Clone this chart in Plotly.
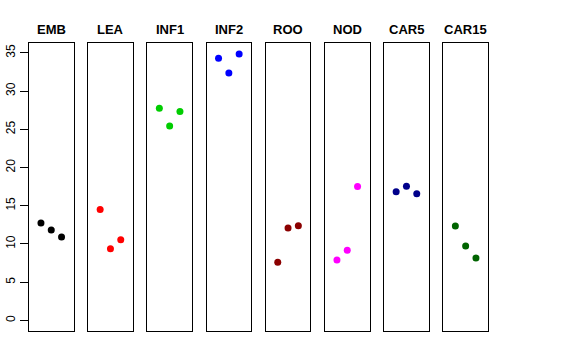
import plotly.graph_objects as go

groups = ["EMB", "LEA", "INF1", "INF2", "ROO", "NOD", "CAR5", "CAR15"]
colors = ["#000000", "#FF0000", "#00CD00", "#0000FF", "#8B0000", "#FF00FF", "#00008B", "#006400"]
x_pos = [1, 2, 3]
emb = [12.74, 11.82, 10.90]
lea = [14.49, 9.38, 10.56]
inf1 = [27.75, 25.43, 27.32]
inf2 = [34.29, 32.37, 34.86]
roo = [7.59, 12.08, 12.39]
nod = [7.89, 9.16, 17.50]
car5 = [16.84, 17.54, 16.58]
car15 = [12.34, 9.73, 8.16]
values = [emb, lea, inf1, inf2, roo, nod, car5, car15]
y_ticks = [0, 5, 10, 15, 20, 25, 30, 35]

W, H = 576, 360
fig = go.Figure()
ymax = 34.86
yr = [0 - 0.04 * ymax, ymax * 1.04]
xr = [-0.16, 4.16]
top_px, bot_px = 43.3, 331.0
ydom = [(H - bot_px) / H, (H - top_px) / H]

for i, (g, c, v) in enumerate(zip(groups, colors, values)):
    left = 29.0 + i * 59.2
    right = left + 44.5
    xa = "xaxis" if i == 0 else f"xaxis{i+1}"
    ya = "yaxis" if i == 0 else f"yaxis{i+1}"
    xref = "x" if i == 0 else f"x{i+1}"
    yref = "y" if i == 0 else f"y{i+1}"
    fig.add_trace(go.Scatter(x=x_pos, y=v, mode="markers", xaxis=xref, yaxis=yref,
                             marker=dict(color=c, size=7), showlegend=False))
    fig.layout[xa] = dict(domain=[left / W, right / W], range=xr, showline=True, mirror=True,
                          linecolor="black", linewidth=1, showgrid=False, zeroline=False,
                          showticklabels=False, ticks="", anchor=yref, automargin=False)
    yconf = dict(domain=ydom, range=yr, showline=True, mirror=True, linecolor="black",
                 linewidth=1, showgrid=False, zeroline=False, anchor=xref, automargin=False)
    if i == 0:
        yconf.update(tickvals=y_ticks, ticks="outside", ticklen=8, tickcolor="black",
                     tickangle=-90, tickfont=dict(family="Liberation Sans, Arial", size=12, color="black"))
    else:
        yconf.update(showticklabels=False, ticks="")
    fig.layout[ya] = yconf
    fig.add_annotation(text=f"<b>{g}</b>", x=(left + right) / 2 / W, y=(H - 29) / H,
                       xref="paper", yref="paper", showarrow=False, xanchor="center", yanchor="middle",
                       font=dict(family="Liberation Sans, Arial", size=13, color="black"))

fig.update_layout(width=W, height=H, margin=dict(l=0, r=0, t=0, b=0, autoexpand=False),
                  paper_bgcolor="white", plot_bgcolor="white")
fig.write_html("out.html", config={"displayModeBar": False},
               post_script="document.body.style.margin='0';document.body.style.overflow='hidden';")
